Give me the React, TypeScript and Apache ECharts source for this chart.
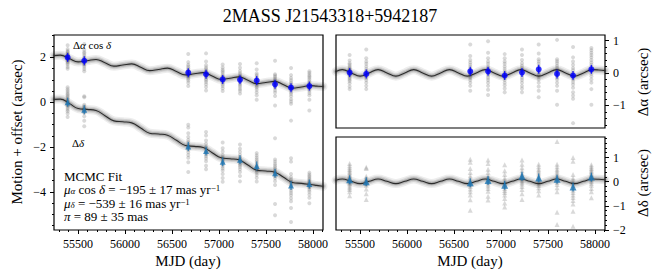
import React, { useEffect, useRef } from 'react';
import * as echarts from 'echarts';

const SERIF = 'Liberation Serif, DejaVu Serif, serif';

// Observation epochs (MJD)
const epochs = [55390, 55567, 56673, 56862, 57039, 57223, 57401, 57596, 57766, 57961];

// Epoch means (blue markers)
const raMeanLeft = [2.0, 1.85, 1.32, 1.25, 1.02, 1.0, 0.97, 0.8, 0.65, 0.72];
const decMeanLeft = [0.0, -0.33, -1.97, -2.18, -2.65, -2.57, -2.84, -3.17, -3.72, -3.65];
const raMeanRes = [0.01, -0.03, 0.05, 0.05, -0.08, 0.01, 0.11, -0.03, -0.08, 0.11];
const decMeanRes = [0.08, 0.0, -0.04, 0.05, -0.15, 0.22, 0.15, 0.1, -0.22, 0.19];

// Individual measurements, residuals (arcsec) per epoch
const raScatter = [
  [0.55, 0.38, 0.3, 0.25, 0.2, 0.16, 0.12, 0.1, 0.07, 0.05, 0.02, 0.0, -0.02, -0.05, -0.08, -0.12, -0.16, -0.2, -0.25, -0.32, -0.42, -0.5],
  [0.72, 0.45, 0.35, 0.28, 0.2, 0.12, 0.06, 0.0, -0.05, -0.1, -0.16, -0.22, -0.3, -0.4, -0.5],
  [0.88, 0.52, 0.4, 0.32, 0.25, 0.18, 0.12, 0.08, 0.04, 0.0, -0.05, -0.1, -0.15, -0.22, -0.3, -0.4, -0.55],
  [0.98, 0.62, 0.45, 0.35, 0.28, 0.2, 0.14, 0.08, 0.03, -0.02, -0.08, -0.15, -0.22, -0.3, -0.4, -0.52, -0.68],
  [0.58, 0.45, 0.35, 0.28, 0.2, 0.12, 0.05, 0.0, -0.05, -0.1, -0.15, -0.22, -0.3, -0.38, -0.48, -0.6],
  [0.72, 0.55, 0.4, 0.3, 0.22, 0.15, 0.08, 0.03, -0.02, -0.08, -0.15, -0.22, -0.3, -0.4, -0.48, -0.6],
  [0.88, 0.6, 0.42, 0.35, 0.28, 0.2, 0.14, 0.08, 0.02, -0.05, -0.12, -0.2, -0.3, -0.42, -0.55, -0.75],
  [1.02, 0.42, 0.36, 0.3, 0.22, 0.15, 0.08, 0.02, -0.03, -0.08, -0.14, -0.2, -0.3, -0.4, -0.55, -0.98],
  [0.8, 0.48, 0.35, 0.25, 0.15, 0.08, 0.0, -0.06, -0.12, -0.2, -0.28, -0.36, -0.46, -0.6, -0.7, -0.8, -1.55],
  [0.77, 0.7, 0.62, 0.55, 0.48, 0.4, 0.32, 0.25, 0.18, 0.1, 0.04, -0.03, -0.1, -0.2, -0.3, -0.5, -0.98],
];
const decScatter = [
  [0.75, 0.66, 0.58, 0.5, 0.44, 0.38, 0.32, 0.26, 0.2, 0.14, 0.1, 0.05, 0.0, -0.05, -0.1, -0.18, -0.25, -0.32, -0.42, -0.58],
  [0.6, 0.55, 0.22, 0.15, 0.08, 0.03, -0.02, -0.08, -0.15, -0.3, -0.5, -0.74],
  [0.93, 0.8, 0.55, 0.38, 0.25, 0.15, 0.05, -0.05, -0.12, -0.2, -0.3, -0.42, -0.55, -0.75, -1.18],
  [0.9, 0.75, 0.52, 0.38, 0.25, 0.15, 0.05, -0.02, -0.1, -0.18, -0.28, -0.4, -0.6, -0.76],
  [0.7, 0.45, 0.3, 0.15, 0.05, -0.05, -0.12, -0.2, -0.28, -0.36, -0.45, -0.55, -0.7, -0.88, -1.05],
  [0.9, 0.72, 0.58, 0.45, 0.35, 0.28, 0.2, 0.12, 0.05, -0.02, -0.1, -0.2, -0.32, -0.5, -0.74],
  [0.72, 0.62, 0.52, 0.44, 0.36, 0.28, 0.2, 0.14, 0.08, 0.02, -0.06, -0.15, -0.25, -0.38, -0.55],
  [1.66, 0.72, 0.62, 0.52, 0.44, 0.36, 0.28, 0.2, 0.12, 0.05, -0.03, -0.12, -0.25, -0.42, -1.27, -1.77],
  [1.0, 0.85, 0.3, 0.15, 0.05, -0.05, -0.15, -0.25, -0.35, -0.45, -0.55, -0.65, -0.78, -0.92, -1.22, -1.84],
  [0.7, 0.62, 0.55, 0.48, 0.42, 0.36, 0.3, 0.25, 0.2, 0.14, 0.08, 0.02, -0.06, -0.15, -0.28, -0.42, -0.67],
];

// Best-fit model curves, read at its turning points and crossings
const curveMjd = [55245, 55312, 55407, 55502, 55597, 55692, 55787, 55882, 55977, 56072, 56167, 56262, 56357, 56452, 56547, 56642, 56737, 56832, 56927, 57022, 57117, 57212, 57307, 57402, 57497, 57592, 57687, 57782, 57877, 57972, 58040, 58106];
const raModelLeft = [2.08, 2.10, 1.95, 1.80, 1.85, 1.91, 1.76, 1.61, 1.66, 1.71, 1.56, 1.41, 1.46, 1.52, 1.37, 1.22, 1.27, 1.32, 1.17, 1.02, 1.07, 1.13, 0.98, 0.83, 0.88, 0.93, 0.78, 0.63, 0.68, 0.74, 0.72, 0.70];
const decModelLeft = [0.13, 0.14, -0.05, -0.28, -0.32, -0.37, -0.60, -0.83, -0.87, -0.92, -1.15, -1.38, -1.42, -1.47, -1.70, -1.93, -1.97, -2.02, -2.25, -2.48, -2.52, -2.57, -2.80, -3.03, -3.07, -3.12, -3.35, -3.58, -3.62, -3.67, -3.71, -3.75];
const raModelRes = [0.045, 0.10, 0.0, -0.10, 0.0, 0.10, 0.0, -0.10, 0.0, 0.10, 0.0, -0.10, 0.0, 0.10, 0.0, -0.10, 0.0, 0.10, 0.0, -0.10, 0.0, 0.10, 0.0, -0.10, 0.0, 0.10, 0.0, -0.10, 0.0, 0.10, 0.09, 0.07];
const decModelRes = [0.06, 0.11, 0.015, -0.08, 0.015, 0.11, 0.015, -0.08, 0.015, 0.11, 0.015, -0.08, 0.015, 0.11, 0.015, -0.08, 0.015, 0.11, 0.015, -0.08, 0.015, 0.11, 0.015, -0.08, 0.015, 0.11, 0.015, -0.08, 0.015, 0.11, 0.10, 0.08];

// Axis ranges and ticks
const X_MIN = 55245;
const X_MAX = 58106;
const xMajorTicks = [55500, 56000, 56500, 57000, 57500, 58000];
const leftYTicks = [-4, -2, 0, 2];
const raYTicks = [-1, 0, 1];
const decYTicks = [-2, -1, 0, 1];

function steps(start: number, end: number, step: number) {
  const out: number[] = [];
  for (let v = start; v <= end + 1e-9; v += step) out.push(Math.round(v * 100) / 100);
  return out;
}
const xMinorTicks = steps(55300, 58100, 100);
const leftYMinor = steps(-5.5, 3.0, 0.5);
const raYMinor = steps(-1.6, 1.0, 0.2);
const decYMinor = steps(-2.0, 1.8, 0.2);

const fmt = (v: number) => (v < 0 ? '\u2212' + Math.abs(v) : String(v));

function xAxisDef(gridIndex: number, ticks: number[] | null, len: number, labels: boolean) {
  return {
    type: 'value',
    gridIndex,
    min: X_MIN,
    max: X_MAX,
    position: 'bottom',
    axisLine: { show: false, onZero: false },
    splitLine: { show: false },
    axisTick: ticks
      ? { show: true, customValues: ticks, length: len, lineStyle: { color: '#000', width: 1 } }
      : { show: false },
    axisLabel: labels
      ? { show: true, customValues: ticks, formatter: (v: number) => String(v), margin: 8, fontFamily: SERIF, fontSize: 12, color: '#000' }
      : { show: false },
  };
}
function yAxisDef(gridIndex: number, min: number, max: number, pos: string, ticks: number[], len: number, labels: boolean) {
  return {
    type: 'value',
    gridIndex,
    min,
    max,
    position: pos,
    axisLine: { show: false, onZero: false },
    splitLine: { show: false },
    axisTick: { show: true, customValues: ticks, length: len, lineStyle: { color: '#000', width: 1 } },
    axisLabel: labels
      ? { show: true, customValues: ticks, formatter: fmt, margin: 8, fontFamily: SERIF, fontSize: 12, color: '#000' }
      : { show: false },
  };
}

function curveSeries(values: number[], xi: number, yi: number) {
  const data = curveMjd.map((t, i) => [t, values[i]]);
  const layers = [
    { w: 9, c: 'rgba(0,0,0,0.07)' },
    { w: 6, c: 'rgba(0,0,0,0.10)' },
    { w: 3.5, c: 'rgba(0,0,0,0.16)' },
    { w: 1.1, c: '#2b2b2b' },
  ];
  return layers.map((l) => ({
    type: 'line',
    xAxisIndex: xi,
    yAxisIndex: yi,
    data,
    smooth: 0.45,
    showSymbol: false,
    symbol: 'none',
    silent: true,
    z: 3,
    lineStyle: { width: l.w, color: l.c, cap: 'round', join: 'round' },
  }));
}

function greySeries(scatter: number[][], offsets: number[], xi: number, yi: number, symbol: string, size: number) {
  const data: number[][] = [];
  scatter.forEach((arr, i) => arr.forEach((r) => data.push([epochs[i], offsets[i] + r])));
  return {
    type: 'scatter',
    xAxisIndex: xi,
    yAxisIndex: yi,
    data,
    symbol,
    symbolSize: size,
    silent: true,
    z: 2,
    itemStyle: { color: 'rgba(105,105,105,0.32)' },
  };
}

function meanSeries(values: number[], xi: number, yi: number, symbol: string, size: number, color: string) {
  const data = epochs.map((t, i) => [t, values[i]]);
  return [
    {
      type: 'scatter', xAxisIndex: xi, yAxisIndex: yi, data, symbol: 'rect', symbolSize: [1.3, 9],
      silent: true, z: 5, itemStyle: { color },
    },
    {
      type: 'scatter', xAxisIndex: xi, yAxisIndex: yi, data, symbol, symbolSize: size,
      silent: true, z: 6, itemStyle: { color },
    },
  ];
}

const zeros = epochs.map(() => 0);
const raLeftOffset = raMeanLeft.map((m, i) => m - raMeanRes[i]);
const decLeftOffset = decMeanLeft.map((m, i) => m - decMeanRes[i]);

const BLUE = '#0000ff';
const C0 = '#1f77b4';

function txt(x: number, y: number, text: string, size: number, rotation = 0, align = 'center') {
  return {
    type: 'text',
    x,
    y,
    rotation,
    silent: true,
    style: { text, fontFamily: SERIF, fontSize: size, fill: '#000', textAlign: align, textVerticalAlign: 'middle' },
  };
}
function rich(x: number, y: number, text: string, size = 12) {
  const small = Math.round(size * 0.68);
  const lh = size - 1;
  const r: any = {
    n: { fontFamily: SERIF, fontSize: size, lineHeight: lh, color: '#000' },
    i: { fontFamily: SERIF, fontSize: size, lineHeight: lh, fontStyle: 'italic', color: '#000' },
    sub: { fontFamily: SERIF, fontSize: small, fontStyle: 'italic', verticalAlign: 'bottom', lineHeight: lh, color: '#000' },
    sup: { fontFamily: SERIF, fontSize: small, verticalAlign: 'top', lineHeight: lh - 2, color: '#000' },
  };
  return {
    type: 'text',
    x,
    y,
    silent: true,
    style: { text, rich: r, fontFamily: SERIF, fontSize: size, lineHeight: lh, fill: '#000', textAlign: 'left', textVerticalAlign: 'middle' },
  };
}

const option: any = {
  animation: false,
  backgroundColor: '#fff',
  textStyle: { fontFamily: SERIF },
  grid: [
    { left: 54, top: 35, width: 269, height: 195, show: true, borderColor: '#000', borderWidth: 1.2, backgroundColor: 'transparent' },
    { left: 336, top: 35, width: 269, height: 93, show: true, borderColor: '#000', borderWidth: 1.2, backgroundColor: 'transparent' },
    { left: 336, top: 137, width: 269, height: 93, show: true, borderColor: '#000', borderWidth: 1.2, backgroundColor: 'transparent' },
  ],
  xAxis: [
    xAxisDef(0, xMajorTicks, 4, true),
    xAxisDef(0, xMinorTicks, 2, false),
    xAxisDef(1, null, 0, false),
    xAxisDef(2, xMajorTicks, 4, true),
    xAxisDef(2, xMinorTicks, 2, false),
  ],
  yAxis: [
    yAxisDef(0, -5.7, 3.0, 'left', leftYTicks, 4, true),
    yAxisDef(0, -5.7, 3.0, 'left', leftYMinor, 2, false),
    yAxisDef(1, -1.7, 1.17, 'right', raYTicks, 4, true),
    yAxisDef(1, -1.7, 1.17, 'right', raYMinor, 2, false),
    yAxisDef(2, -2.0, 1.85, 'right', decYTicks, 4, true),
    yAxisDef(2, -2.0, 1.85, 'right', decYMinor, 2, false),
  ],
  series: [
    greySeries(raScatter, raLeftOffset, 0, 0, 'circle', 4),
    greySeries(decScatter, decLeftOffset, 0, 0, 'circle', 4),
    greySeries(raScatter, zeros, 2, 2, 'circle', 4),
    greySeries(decScatter, zeros, 3, 4, 'triangle', 5),
    ...curveSeries(raModelLeft, 0, 0),
    ...curveSeries(decModelLeft, 0, 0),
    ...curveSeries(raModelRes, 2, 2),
    ...curveSeries(decModelRes, 3, 4),
    ...meanSeries(raMeanLeft, 0, 0, 'circle', 6, BLUE),
    ...meanSeries(decMeanLeft, 0, 0, 'triangle', 6, C0),
    ...meanSeries(raMeanRes, 2, 2, 'circle', 6, BLUE),
    ...meanSeries(decMeanRes, 3, 4, 'triangle', 7, C0),
  ],
  graphic: [
    txt(330, 16, '2MASS J21543318+5942187', 18),
    txt(17, 132, 'Motion + offset (arcsec)', 15, Math.PI / 2),
    txt(188, 261, 'MJD (day)', 15),
    txt(470, 261, 'MJD (day)', 15),
    txt(643, 82, '\u0394\u03b1 (arcsec)', 15, Math.PI / 2),
    txt(643, 183, '\u0394\u03b4 (arcsec)', 15, Math.PI / 2),
    rich(73, 45, '{n|\u0394}{i|\u03b1} {n|cos} {i|\u03b4}', 11),
    rich(72, 143, '{n|\u0394}{i|\u03b4}', 11),
    rich(64, 176, '{n|MCMC Fit}', 13),
    rich(64, 189.5, '{i|\u03bc}{sub|\u03b1}{n| cos }{i|\u03b4}{n| = \u2212195 \u00b1 17 mas yr}{sup|\u22121}', 13),
    rich(64, 203, '{i|\u03bc}{sub|\u03b4}{n| = \u2212539 \u00b1 16 mas yr}{sup|\u22121}', 13),
    rich(64, 216.5, '{i|\u03c0}{n| = 89 \u00b1 35 mas}', 13),
  ],
};

export default function App() {
  const ref = useRef<HTMLDivElement>(null);
  useEffect(() => {
    if (!ref.current) return;
    const chart = echarts.init(ref.current, null, { renderer: 'svg' });
    chart.setOption(option);
    return () => chart.dispose();
  }, []);
  return <div ref={ref} style={{ position: 'fixed', left: 0, top: 0, width: 659, height: 280, background: '#fff' }} />;
}
